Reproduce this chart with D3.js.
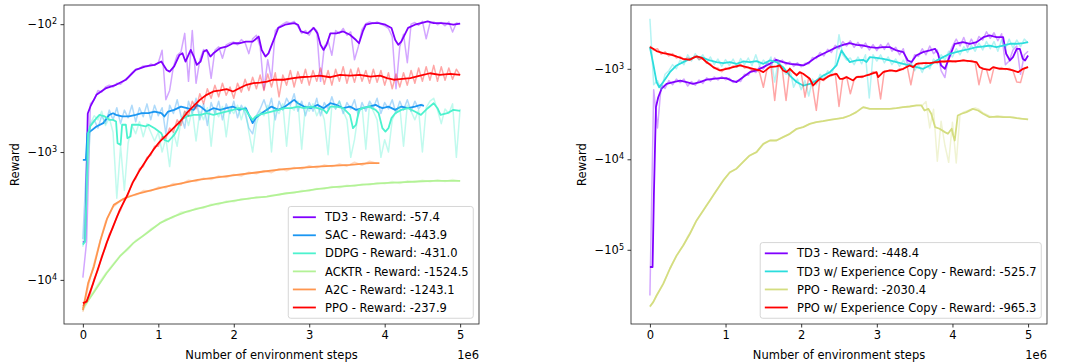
<!DOCTYPE html>
<html>
<head>
<meta charset="utf-8">
<script src="https://cdn.jsdelivr.net/npm/d3@7"></script>
<style>
  body { margin: 0; background: #fff; }
  svg { display: block; font-family: "DejaVu Sans", sans-serif; }
</style>
</head>
<body>
<svg id="chart" width="1068" height="364"></svg>
<script>
// steps are in millions of environment steps (axis offset "1e6")
// raw curves are logged every RAW_DT (or RAW_DT_COARSE) million steps
const RAW_DT = 0.05;
const RAW_DT_COARSE = 0.1;

// ---------- left panel ----------
const leftNames = ['TD3', 'SAC', 'DDPG', 'ACKTR', 'A2C', 'PPO'];
const leftFinal = [-57.4, -443.9, -431.0, -1524.5, -1243.1, -237.9];

const td3Smooth = [[0,-5100],[0.03,-5000],[0.065,-500],[0.1,-440],[0.18,-357],[0.31,-316],[0.44,-298],[0.57,-272],[0.70,-228],[0.83,-214],[0.95,-208],[1.04,-196],[1.11,-228],[1.15,-235],[1.21,-214],[1.28,-174],[1.32,-169],[1.36,-196],[1.43,-159],[1.47,-179],[1.51,-208],[1.56,-196],[1.60,-164],[1.64,-159],[1.69,-179],[1.73,-169],[1.82,-154],[1.90,-150],[1.99,-141],[2.07,-141],[2.16,-137],[2.25,-137],[2.33,-125],[2.37,-159],[2.42,-179],[2.46,-169],[2.52,-137],[2.59,-107],[2.68,-101],[2.80,-98],[2.85,-101],[2.89,-114],[2.98,-118],[3.06,-107],[3.11,-118],[3.15,-145],[3.19,-159],[3.23,-145],[3.28,-118],[3.36,-118],[3.45,-114],[3.54,-121],[3.62,-133],[3.66,-141],[3.71,-114],[3.75,-101],[3.84,-98],[3.92,-98],[4.01,-101],[4.09,-107],[4.14,-133],[4.18,-145],[4.22,-137],[4.31,-107],[4.40,-101],[4.48,-98],[4.57,-95],[4.65,-98],[4.74,-98],[4.83,-99],[4.91,-101],[5.0,-99]];
const td3Raw = [-9600,-5000,-420,-390,-330,-340,-310,-300,-310,-290,
  -295,-275,-260,-240,-225,-222,-212,-215,-205,-210,
  -200,-160,-390,-330,-215,-175,-165,-118,-280,-112,
  -290,-190,-158,-165,-265,-160,-150,-185,-145,-140,
  -138,-145,-132,-140,-170,-130,-122,-150,-325,-190,
  -272,-112,-105,-100,-96,-98,-95,-104,-118,-112,
  -122,-106,-112,-280,-150,-135,-175,-112,-118,-108,
  -122,-115,-190,-150,-110,-99,-96,-99,-96,-100,
  -103,-108,-125,-320,-150,-120,-200,-100,-97,-102,
  -95,-130,-98,-96,-101,-97,-103,-96,-115,-98,
  -99];

const sacSmooth = [[0,-1150],[0.04,-1150],[0.06,-713],[0.095,-692],[0.18,-631],[0.27,-594],[0.35,-512],[0.40,-497],[0.44,-512],[0.52,-527],[0.61,-527],[0.70,-512],[0.78,-497],[0.87,-497],[0.95,-482],[1.04,-497],[1.08,-527],[1.13,-482],[1.21,-468],[1.30,-441],[1.38,-454],[1.47,-468],[1.51,-428],[1.56,-441],[1.64,-482],[1.73,-454],[1.82,-468],[1.90,-454],[1.99,-441],[2.07,-468],[2.16,-454],[2.25,-594],[2.29,-543],[2.37,-497],[2.50,-441],[2.59,-468],[2.68,-441],[2.80,-391],[2.85,-415],[2.93,-441],[3.02,-454],[3.11,-428],[3.19,-454],[3.28,-415],[3.36,-428],[3.45,-454],[3.54,-441],[3.62,-468],[3.71,-454],[3.79,-441],[3.88,-428],[3.92,-441],[3.97,-454],[4.05,-441],[4.14,-468],[4.22,-441],[4.31,-454],[4.40,-441],[4.48,-428],[4.52,-435]];
const sacRaw = [-4800,-1200,-620,-560,-650,-520,-600,-470,-560,-450,
  -600,-470,-540,-430,-580,-450,-530,-420,-560,-430,
  -520,-450,-720,-430,-500,-390,-520,-650,-400,-500,
  -380,-560,-420,-620,-410,-500,-400,-560,-420,-500,
  -400,-540,-430,-500,-650,-720,-520,-460,-390,-480,
  -380,-560,-400,-470,-380,-430,-350,-480,-400,-520,
  -410,-480,-380,-520,-410,-460,-370,-460,-400,-500,
  -410,-460,-390,-520,-410,-480,-400,-450,-380,-500,
  -410,-460,-390,-500,-400,-470,-390,-480,-400,-460,
  -420];

const ddpgSmooth = [[0,-5300],[0.03,-5000],[0.07,-713],[0.095,-631],[0.18,-543],[0.22,-512],[0.29,-527],[0.35,-560],[0.40,-560],[0.44,-577],[0.46,-853],[0.50,-879],[0.52,-612],[0.57,-612],[0.59,-780],[0.63,-757],[0.65,-612],[0.74,-612],[0.83,-631],[0.87,-612],[0.95,-651],[1.04,-713],[1.08,-803],[1.13,-828],[1.17,-780],[1.21,-735],[1.26,-651],[1.30,-560],[1.38,-527],[1.47,-512],[1.56,-512],[1.64,-497],[1.73,-512],[1.82,-497],[1.90,-482],[1.99,-468],[2.07,-454],[2.16,-468],[2.20,-512],[2.25,-560],[2.29,-527],[2.33,-512],[2.42,-497],[2.50,-482],[2.59,-468],[2.68,-454],[2.76,-454],[2.85,-441],[2.93,-454],[3.02,-441],[3.11,-454],[3.19,-468],[3.23,-497],[3.28,-441],[3.36,-441],[3.45,-454],[3.54,-512],[3.58,-651],[3.62,-612],[3.66,-468],[3.71,-454],[3.79,-441],[3.88,-468],[3.92,-497],[3.97,-651],[4.01,-692],[4.05,-651],[4.09,-543],[4.14,-497],[4.22,-468],[4.31,-454],[4.40,-482],[4.48,-512],[4.57,-454],[4.65,-415],[4.70,-454],[4.74,-512],[4.83,-497],[4.91,-468],[5.0,-476]];
const ddpgRaw = [-5500,-2500,-600,-520,-560,-480,-620,-540,-700,-2300,
  -900,-2000,-850,-620,-720,-580,-760,-600,-700,-820,
  -700,-1000,-780,-1300,-700,-900,-560,-480,-620,-470,
  -820,-480,-560,-450,-900,-470,-530,-440,-760,-450,
  -500,-430,-560,-440,-700,-1000,-600,-480,-520,-430,
  -1000,-450,-500,-420,-900,-440,-470,-400,-950,-430,
  -480,-420,-520,-450,-560,-1050,-430,-460,-400,-480,
  -560,-1100,-800,-500,-440,-950,-420,-480,-560,-1100,
  -800,-1000,-560,-480,-440,-900,-430,-480,-560,-470,
  -1000,-450,-400,-380,-470,-600,-460,-500,-420,-1100,
  -460];

const acktrSmooth = [[0,-16700],[0.137,-12700],[0.314,-8870],[0.49,-6560],[0.668,-5160],[0.845,-4310],[1.02,-3600],[1.20,-3200],[1.375,-2920],[1.55,-2750],[1.77,-2540],[1.99,-2410],[2.21,-2300],[2.44,-2230],[2.66,-2120],[2.88,-2040],[3.10,-1950],[3.32,-1880],[3.54,-1840],[3.76,-1790],[3.98,-1750],[4.20,-1730],[4.43,-1700],[4.65,-1680],[5.0,-1680]];
const acktrRaw = [-17500,-13500,-10800,-8900,-7500,-6400,-5800,-4900,-4500,-4000,
  -3700,-3350,-3250,-2950,-2950,-2750,-2750,-2560,-2580,-2420,
  -2450,-2320,-2330,-2240,-2260,-2180,-2170,-2080,-2090,-2000,
  -2020,-1930,-1950,-1860,-1900,-1820,-1850,-1780,-1810,-1740,
  -1770,-1700,-1760,-1680,-1720,-1660,-1710,-1650,-1700,-1640,
  -1690];

const a2cSmooth = [[0,-17200],[0.07,-10600],[0.146,-7870],[0.235,-4860],[0.323,-3300],[0.41,-2590],[0.54,-2320],[0.72,-2120],[1.07,-1880],[1.52,-1650],[1.96,-1530],[2.40,-1420],[2.66,-1360],[3.10,-1300],[3.54,-1260],[3.80,-1220],[3.93,-1220]];
const a2cRaw = [-17800,-9500,-5700,-3500,-2700,-2400,-2200,-2180,-2000,-2020,
  -1880,-1900,-1760,-1790,-1660,-1700,-1600,-1640,-1540,-1580,
  -1500,-1540,-1440,-1480,-1400,-1450,-1350,-1400,-1320,-1360,
  -1280,-1330,-1260,-1300,-1240,-1290,-1200,-1270,-1180,-1230];

const ppoSmooth = [[0,-15200],[0.05,-14800],[0.137,-10600],[0.225,-7400],[0.314,-5160],[0.40,-3830],[0.49,-2830],[0.58,-2230],[0.668,-1700],[0.756,-1380],[0.844,-1150],[0.933,-962],[1.02,-828],[1.11,-735],[1.20,-651],[1.29,-577],[1.375,-497],[1.46,-441],[1.55,-391],[1.64,-357],[1.73,-336],[1.82,-330],[1.905,-322],[1.99,-336],[2.08,-316],[2.17,-298],[2.26,-289],[2.35,-286],[2.44,-281],[2.52,-272],[2.66,-272],[2.79,-264],[2.88,-260],[3.01,-257],[3.14,-253],[3.28,-260],[3.41,-249],[3.54,-253],[3.67,-249],[3.81,-257],[3.94,-253],[4.03,-264],[4.12,-272],[4.20,-269],[4.34,-264],[4.47,-253],[4.60,-242],[4.73,-249],[4.87,-245],[5.0,-249]];
const ppoRaw = [-16000,-14500,-12800,-9800,-8400,-6500,-5600,-4400,-3900,-3200,
  -2850,-2350,-2150,-1750,-1620,-1350,-1300,-1100,-1060,-900,
  -900,-760,-780,-650,-700,-560,-620,-480,-520,-400,
  -460,-350,-420,-320,-380,-300,-370,-290,-360,-310,
  -380,-290,-340,-270,-330,-260,-320,-250,-330,-245,
  -310,-240,-370,-250,-300,-230,-310,-235,-290,-225,
  -300,-230,-280,-220,-295,-230,-300,-225,-280,-215,
  -290,-225,-285,-220,-280,-230,-290,-225,-285,-230,
  -300,-240,-320,-245,-310,-240,-300,-230,-290,-220,
  -280,-215,-275,-210,-280,-215,-275,-220,-270,-225,
  -250];

// ---------- right panel ----------
const rightNames = ['TD3', 'TD3 w/ Experience Copy', 'PPO', 'PPO w/ Experience Copy'];
const rightFinal = [-448.4, -525.7, -2030.4, -965.3];

const td3bSmooth = [[0,-155000],[0.035,-155000],[0.053,-24000],[0.08,-2650],[0.11,-2060],[0.154,-1660],[0.22,-1470],[0.31,-1400],[0.40,-1350],[0.485,-1400],[0.57,-1470],[0.66,-1400],[0.75,-1320],[0.84,-1290],[0.925,-1270],[1.01,-1270],[1.08,-1350],[1.145,-1400],[1.23,-1240],[1.32,-1090],[1.41,-1040],[1.50,-959],[1.585,-881],[1.67,-796],[1.76,-843],[1.85,-881],[1.94,-896],[2.03,-918],[2.11,-843],[2.20,-743],[2.29,-682],[2.38,-627],[2.47,-576],[2.555,-543],[2.64,-520],[2.73,-543],[2.82,-553],[2.91,-576],[3.0,-586],[3.08,-576],[3.17,-576],[3.26,-627],[3.35,-655],[3.41,-809],[3.46,-843],[3.52,-713],[3.61,-655],[3.70,-627],[3.77,-601],[3.81,-682],[3.85,-918],[3.90,-1000],[3.96,-743],[4.03,-529],[4.14,-507],[4.23,-529],[4.32,-507],[4.41,-447],[4.49,-428],[4.58,-447],[4.67,-447],[4.71,-682],[4.76,-809],[4.80,-743],[4.85,-601],[4.89,-601],[4.93,-776],[4.96,-809],[5.0,-713]];
const td3bRaw = [-320000,-1700,-4500,-1500,-1650,-1350,-1500,-1300,-1420,-1300,
  -1550,-1380,-1520,-1330,-1450,-1260,-1360,-1230,-1330,-1220,
  -1320,-1270,-1420,-1350,-1380,-1150,-1180,-1020,-1100,-950,
  -1010,-860,-920,-760,-860,-800,-900,-840,-940,-860,
  -950,-870,-880,-750,-770,-660,-720,-610,-660,-550,
  -600,-500,-560,-490,-580,-510,-590,-520,-620,-540,
  -630,-540,-610,-520,-640,-580,-700,-600,-860,-900,
  -700,-730,-600,-700,-560,-680,-620,-1050,-1250,-700,
  -560,-470,-560,-450,-580,-470,-560,-440,-480,-390,
  -460,-400,-490,-410,-900,-820,-620,-560,-1150,-700,
  -640];

const td3ecSmooth = [[0,-576],[0.044,-881],[0.088,-1400],[0.123,-1600],[0.176,-1400],[0.264,-1090],[0.352,-918],[0.44,-843],[0.53,-776],[0.617,-731],[0.705,-756],[0.793,-809],[0.88,-843],[0.97,-865],[1.057,-843],[1.145,-881],[1.233,-830],[1.32,-843],[1.41,-822],[1.50,-881],[1.586,-809],[1.674,-843],[1.76,-959],[1.85,-1190],[1.94,-1400],[2.026,-1530],[2.115,-1470],[2.20,-1350],[2.29,-1190],[2.38,-1090],[2.467,-918],[2.533,-627],[2.577,-713],[2.643,-843],[2.73,-809],[2.82,-796],[2.863,-843],[2.907,-743],[2.996,-756],[3.084,-776],[3.17,-809],[3.26,-843],[3.348,-881],[3.436,-918],[3.524,-959],[3.612,-1000],[3.70,-918],[3.79,-809],[3.877,-743],[3.965,-682],[4.05,-655],[4.14,-627],[4.23,-601],[4.317,-576],[4.405,-567],[4.493,-553],[4.58,-576],[4.67,-553],[4.758,-529],[4.846,-529],[4.934,-520],[5.0,-507]];
const td3ecRaw = [-280,-1500,-1350,-1700,-1150,-1050,-900,-1000,-800,-900,
  -700,-820,-680,-800,-700,-860,-740,-900,-780,-940,
  -790,-920,-780,-960,-770,-900,-760,-920,-700,-930,
  -800,-900,-740,-1400,-800,-1000,-1150,-1000,-1600,-1300,
  -1700,-1350,-2000,-1300,-1500,-1150,-1300,-1050,-1150,-900,
  -420,-700,-800,-760,-900,-740,-880,-700,-2100,-700,
  -820,-700,-860,-740,-900,-780,-940,-800,-960,-850,
  -1050,-900,-1100,-880,-1000,-780,-880,-700,-800,-640,
  -740,-600,-700,-570,-660,-550,-640,-520,-620,-500,
  -600,-500,-640,-480,-600,-470,-590,-480,-570,-470,
  -520];

const ppobSmooth = [[0,-423000],[0.044,-379000],[0.088,-320000],[0.176,-238000],[0.264,-162000],[0.352,-116000],[0.44,-89600],[0.529,-66500],[0.617,-47400],[0.705,-36800],[0.793,-28500],[0.88,-22100],[0.97,-17100],[1.057,-13900],[1.145,-12700],[1.233,-10700],[1.32,-9070],[1.41,-8340],[1.50,-6750],[1.586,-6200],[1.674,-6200],[1.76,-5690],[1.85,-5230],[1.94,-4600],[2.026,-4410],[2.115,-4060],[2.20,-3880],[2.29,-3780],[2.38,-3660],[2.467,-3570],[2.555,-3480],[2.643,-3280],[2.73,-3010],[2.82,-2650],[2.907,-2770],[2.996,-2770],[3.084,-2770],[3.17,-2770],[3.26,-2720],[3.348,-2650],[3.436,-2610],[3.524,-2540],[3.59,-2540],[3.63,-2890],[3.68,-2770],[3.72,-3140],[3.77,-4410],[3.83,-4600],[3.90,-5010],[3.94,-5230],[3.99,-4600],[4.01,-5460],[4.03,-6200],[4.07,-3280],[4.12,-3140],[4.185,-3010],[4.27,-2770],[4.34,-2890],[4.405,-3140],[4.49,-3420],[4.58,-3370],[4.67,-3420],[4.76,-3420],[4.85,-3510],[4.93,-3570],[5.0,-3630]];
const ppobRaw = [-430000,-370000,-310000,-260000,-215000,-172000,-140000,-118000,-100000,-87000,
  -71000,-61000,-50000,-43000,-37500,-32000,-28000,-24000,-21000,-18000,
  -16000,-14200,-13300,-12600,-11400,-10400,-9400,-8800,-8400,-7500,
  -6800,-6400,-6150,-6200,-6000,-5750,-5500,-5200,-4900,-4600,
  -4450,-4300,-4080,-3970,-3880,-3820,-3760,-3700,-3640,-3590,
  -3540,-3470,-3400,-3250,-3100,-2900,-2700,-2680,-2760,-2770,
  -2780,-2770,-2760,-2770,-2750,-2720,-2690,-2650,-2620,-2600,
  -2560,-2540,-2540,-2300,-4500,-2800,-10500,-3800,-7000,-10800,
  -3900,-11000,-3200,-3000,-2900,-2800,-2700,-2800,-3050,-3200,
  -3350,-3400,-3300,-3350,-3400,-3420,-3400,-3480,-3550,-3560,
  -3630];

const ppoecSmooth = [[0,-576],[0.044,-601],[0.088,-638],[0.176,-671],[0.264,-694],[0.352,-731],[0.44,-776],[0.529,-796],[0.573,-756],[0.617,-731],[0.683,-756],[0.749,-843],[0.837,-959],[0.925,-1043],[1.013,-1000],[1.10,-959],[1.19,-918],[1.28,-959],[1.366,-1000],[1.454,-1043],[1.50,-1089],[1.586,-959],[1.674,-942],[1.718,-918],[1.762,-1043],[1.806,-1089],[1.85,-1000],[1.894,-1089],[1.94,-1185],[1.98,-1089],[2.026,-1136],[2.115,-1290],[2.159,-1530],[2.20,-1404],[2.247,-1290],[2.29,-1323],[2.38,-1185],[2.467,-1136],[2.51,-1290],[2.555,-1290],[2.60,-1236],[2.643,-1290],[2.687,-1345],[2.73,-1236],[2.82,-1216],[2.907,-1155],[2.996,-1089],[3.018,-1236],[3.084,-1089],[3.17,-1043],[3.26,-1061],[3.348,-1000],[3.436,-918],[3.48,-959],[3.524,-881],[3.612,-865],[3.70,-865],[3.79,-843],[3.877,-830],[3.965,-822],[4.05,-830],[4.14,-809],[4.23,-822],[4.317,-843],[4.36,-959],[4.405,-1000],[4.493,-1026],[4.537,-959],[4.626,-1000],[4.714,-1000],[4.80,-1043],[4.868,-1089],[4.934,-1000],[5.0,-959]];
const ppoecRaw = [-560,-620,-600,-690,-650,-720,-680,-760,-730,-800,
  -760,-790,-720,-790,-770,-870,-880,-990,-980,-1080,
  -980,-1010,-930,-960,-890,-980,-960,-1050,-1010,-1100,
  -1600,-990,-930,-2240,-910,-1020,-2240,-980,-1120,-1150,
  -1100,-2060,-1250,-1560,-2880,-1260,-1350,-1200,-1200,-1120,
  -2610,-1260,-1220,-1890,-1320,-1210,-1250,-1180,-1180,-1080,
  -1120,-2150,-1050,-1060,-1030,-1080,-1000,-1020,-930,-1500,
  -920,-860,-880,-850,-880,-840,-860,-820,-845,-810,
  -835,-815,-825,-800,-830,-810,-850,-1500,-980,-1020,
  -1440,-960,-990,-970,-1020,-990,-1050,-1400,-1420,-980,
  -950];

// matplotlib "rainbow" colours
const leftColors = ['#8000ff', '#1a96f2', '#4df2ce', '#b3f296', '#ff964f', '#ff0000'];
const rightColors = ['#8000ff', '#2bdddd', '#d4dd80', '#ff0000'];

const FONT = 11.5;
const svg = d3.select('#chart');

const panels = [
  {
    id: 'left', left: 64, right: 479, top: 5, bottom: 324,
    yDomain: [Math.pow(10, 1.85), Math.pow(10, 4.345)],
    yTicks: [1e2, 1e3, 1e4], ylabelX: 15,
    names: leftNames, finals: leftFinal, colors: leftColors,
    smooth: [td3Smooth, sacSmooth, ddpgSmooth, acktrSmooth, a2cSmooth, ppoSmooth],
    raw: [td3Raw, sacRaw, ddpgRaw, acktrRaw, a2cRaw, ppoRaw],
    rawDt: [RAW_DT, RAW_DT, RAW_DT, RAW_DT_COARSE, RAW_DT_COARSE, RAW_DT]
  },
  {
    id: 'right', left: 631, right: 1047, top: 5, bottom: 324,
    yDomain: [Math.pow(10, 2.295), Math.pow(10, 5.82)],
    yTicks: [1e3, 1e4, 1e5], ylabelX: 582,
    names: rightNames, finals: rightFinal, colors: rightColors,
    smooth: [td3bSmooth, td3ecSmooth, ppobSmooth, ppoecSmooth],
    raw: [td3bRaw, td3ecRaw, ppobRaw, ppoecRaw],
    rawDt: [RAW_DT, RAW_DT, RAW_DT, RAW_DT]
  }
];

panels.forEach(drawPanel);

function drawPanel(p) {
  const x = d3.scaleLinear().domain([-0.25, 5.25]).range([p.left, p.right]);
  // rewards are negative: plot the magnitude on a log scale, larger magnitude lower
  const y = d3.scaleLog().domain(p.yDomain).range([p.top, p.bottom]);
  const line = d3.line().x(d => x(d[0])).y(d => y(-d[1]));

  svg.append('clipPath').attr('id', 'clip-' + p.id)
    .append('rect')
    .attr('x', p.left).attr('y', p.top)
    .attr('width', p.right - p.left).attr('height', p.bottom - p.top);

  const plot = svg.append('g').attr('clip-path', `url(#clip-${p.id})`);

  p.names.forEach((name, i) => {
    const rawPts = p.raw[i].map((v, k) => [k * p.rawDt[i], v]);
    plot.append('path')
      .datum(rawPts)
      .attr('d', line)
      .attr('fill', 'none')
      .attr('stroke', p.colors[i])
      .attr('stroke-opacity', 0.35)
      .attr('stroke-width', 1.5)
      .attr('stroke-linejoin', 'round');
    plot.append('path')
      .datum(p.smooth[i])
      .attr('d', line)
      .attr('fill', 'none')
      .attr('stroke', p.colors[i])
      .attr('stroke-width', 1.8)
      .attr('stroke-linejoin', 'round');
  });

  // axes
  const xAxis = svg.append('g')
    .attr('transform', `translate(0,${p.bottom})`)
    .call(d3.axisBottom(x).tickValues([0, 1, 2, 3, 4, 5]).tickFormat(d3.format('d'))
      .tickSize(3.5).tickPadding(3.5));
  const yAxis = svg.append('g')
    .attr('transform', `translate(${p.left},0)`)
    .call(d3.axisLeft(y).tickValues(p.yTicks).tickSize(3.5).tickPadding(3.5).tickFormat(() => ''));

  [xAxis, yAxis].forEach(a => {
    a.attr('font-size', FONT).attr('font-family', '"DejaVu Sans", sans-serif');
    a.select('.domain').remove();
    a.selectAll('.tick line').attr('stroke', '#000').attr('stroke-width', 0.8);
    a.selectAll('.tick text').attr('fill', '#000');
  });

  yAxis.selectAll('.tick text').each(function(d) {
    const t = d3.select(this);
    t.append('tspan').text('\u221210');
    t.append('tspan').attr('dy', '-0.5em').attr('font-size', '0.7em').text(Math.round(Math.log10(d)));
  });

  svg.append('rect')
    .attr('x', p.left).attr('y', p.top)
    .attr('width', p.right - p.left).attr('height', p.bottom - p.top)
    .attr('fill', 'none').attr('stroke', '#222').attr('stroke-width', 0.8);

  // labels
  svg.append('text')
    .attr('x', (p.left + p.right) / 2).attr('y', 359)
    .attr('text-anchor', 'middle').attr('font-size', FONT)
    .text('Number of environment steps');
  svg.append('text')
    .attr('x', p.right).attr('y', 359)
    .attr('text-anchor', 'end').attr('font-size', FONT)
    .text('1e6');
  svg.append('text')
    .attr('transform', `translate(${p.ylabelX},${(p.top + p.bottom) / 2}) rotate(-90)`)
    .attr('dy', '0.35em')
    .attr('text-anchor', 'middle').attr('font-size', FONT)
    .text('Reward');

  drawLegend(p);
}

function drawLegend(p) {
  const pad = 0.4 * FONT, handle = 2 * FONT, gap = 0.8 * FONT, spacing = 0.5 * FONT;
  const rowH = 1.07 * FONT;
  const labels = p.names.map((n, i) => `${n} - Reward: ${p.finals[i].toFixed(1)}`);

  const lg = svg.append('g');
  const box = lg.append('rect');
  const texts = lg.selectAll('text.lab').data(labels).enter().append('text')
    .attr('class', 'lab').attr('font-size', FONT).text(d => d);
  let maxW = 0;
  texts.each(function() { maxW = Math.max(maxW, this.getComputedTextLength()); });

  const w = pad + handle + gap + maxW + pad;
  const h = 2 * pad + labels.length * rowH + (labels.length - 1) * spacing;
  const right = p.right - 0.5 * FONT, bottom = p.bottom - 0.5 * FONT;
  const left = right - w, top = bottom - h;

  box.attr('x', left).attr('y', top).attr('width', w).attr('height', h)
    .attr('rx', 2.5)
    .attr('fill', '#fff').attr('fill-opacity', 0.8)
    .attr('stroke', '#d6d6d6').attr('stroke-width', 1);

  labels.forEach((_, i) => {
    const cy = top + pad + rowH / 2 + i * (rowH + spacing);
    lg.append('line')
      .attr('x1', left + pad).attr('x2', left + pad + handle)
      .attr('y1', cy).attr('y2', cy)
      .attr('stroke', p.colors[i]).attr('stroke-width', 1.8);
  });
  texts
    .attr('x', left + pad + handle + gap)
    .attr('y', (d, i) => top + pad + rowH / 2 + i * (rowH + spacing))
    .attr('dy', '0.36em');
}
</script>
</body>
</html>
